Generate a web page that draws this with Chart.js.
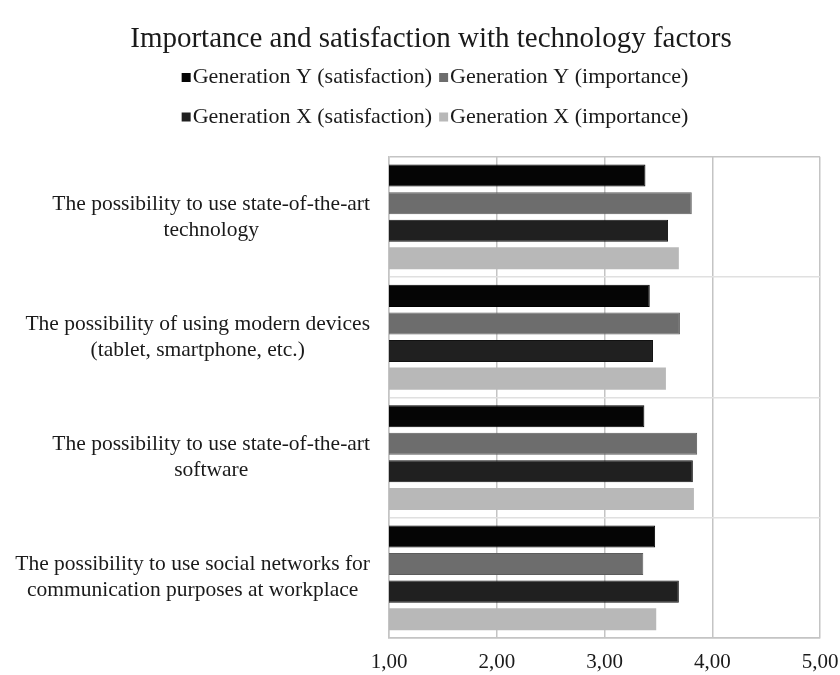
<!DOCTYPE html>
<html>
<head>
<meta charset="utf-8">
<script src="https://cdn.jsdelivr.net/npm/chart.js@4/dist/chart.umd.min.js"></script>
<style>
  html, body { margin: 0; padding: 0; background: #ffffff; }
  #wrap { width: 840px; height: 675px; position: relative; }
</style>
</head>
<body>
<div id="wrap"><canvas id="chart" width="840" height="675"></canvas></div>
<script>
// Factor names, one array of lines per category
const categories = [
  ['The possibility to use state-of-the-art', 'technology'],
  ['The possibility of using modern devices', '(tablet, smartphone, etc.)'],
  ['The possibility to use state-of-the-art', 'software'],
  ['The possibility to use social networks for', 'communication purposes at workplace']
];

// Mean scores per factor
const genYSatisfaction = [3.38, 3.42, 3.37, 3.47];
const genYImportance   = [3.81, 3.70, 3.86, 3.36];
const genXSatisfaction = [3.59, 3.45, 3.82, 3.69];
const genXImportance   = [3.69, 3.57, 3.83, 3.48];

const seriesNames = [
  'Generation Y (satisfaction)',
  'Generation Y (importance)',
  'Generation X (satisfaction)',
  'Generation X (importance)'
];

const tickLabels = ['1,00', '2,00', '3,00', '4,00', '5,00'];

const FONT = '"Liberation Serif", "Times New Roman", serif';
const TEXT = '#1a1a1a';
const GRID = '#c4c4c4';
const GRID_LIGHT = '#e0e0e0';

// Legend drawn as two rows of two entries under the title
const twoRowLegend = {
  id: 'twoRowLegend',
  afterDraw(chart) {
    const ctx = chart.ctx;
    const tb = chart.titleBlock;
    const cx = (tb ? tb.left + tb.width / 2 : chart.width / 2) + 4;
    const rows = [[0, 1], [2, 3]];
    const rowY = [77.5, 117];
    const box = 9, gapBox = 2, gapItem = 7;
    ctx.save();
    ctx.font = '22px ' + FONT;
    ctx.textBaseline = 'middle';
    ctx.textAlign = 'left';
    rows.forEach((row, r) => {
      const widths = row.map(i => ctx.measureText(chart.data.datasets[i].label).width);
      let total = 0;
      widths.forEach((w, k) => { total += box + gapBox + w + (k > 0 ? gapItem : 0); });
      let x = cx - total / 2;
      row.forEach((i, k) => {
        const ds = chart.data.datasets[i];
        if (k > 0) x += gapItem;
        ctx.fillStyle = ds.backgroundColor;
        ctx.fillRect(x, rowY[r] - box / 2, box, box);
        x += box + gapBox;
        ctx.fillStyle = TEXT;
        ctx.fillText(ds.label, x, rowY[r]);
        x += widths[k];
      });
    });
    ctx.restore();
  }
};

// Category labels: each label's lines centred on its widest line, block right-aligned to the axis
const categoryLabels = {
  id: 'categoryLabels',
  afterDraw(chart) {
    const ctx = chart.ctx;
    const yScale = chart.scales.y;
    const rightX = chart.chartArea.left - 19;
    const lineH = 26;
    ctx.save();
    ctx.font = '21.5px ' + FONT;
    ctx.fillStyle = TEXT;
    ctx.textBaseline = 'middle';
    ctx.textAlign = 'center';
    chart.data.labels.forEach((lines, i) => {
      const y = yScale.getPixelForTick(i);
      const w = Math.max(...lines.map(l => ctx.measureText(l).width));
      const cx = rightX - w / 2;
      const top = y - (lines.length - 1) * lineH / 2;
      lines.forEach((l, k) => ctx.fillText(l, cx, top + k * lineH));
    });
    ctx.restore();
  }
};

const colors = ['#050505', '#6d6d6d', '#202020', '#b8b8b8'];
const borders = ['#000000', '#5c5c5c', '#111111', '#b8b8b8'];
const values = [genYSatisfaction, genYImportance, genXSatisfaction, genXImportance];

new Chart(document.getElementById('chart'), {
  type: 'bar',
  data: {
    labels: categories,
    datasets: values.map((v, i) => ({
      label: seriesNames[i],
      data: v,
      backgroundColor: colors[i],
      borderColor: borders[i],
      borderWidth: i === 3 ? 0 : 1,
      categoryPercentage: 0.917,
      barPercentage: 0.8
    }))
  },
  options: {
    indexAxis: 'y',
    responsive: false,
    animation: false,
    layout: { padding: { left: 42, right: 20, top: 0, bottom: 0 } },
    plugins: {
      legend: { display: false },
      tooltip: { enabled: false },
      title: {
        display: true,
        text: 'Importance and satisfaction with technology factors',
        color: TEXT,
        font: { family: FONT, size: 29, weight: 'normal' },
        padding: { top: 22, bottom: 100 }
      }
    },
    scales: {
      x: {
        min: 1,
        max: 5,
        afterFit(scale) {
          scale.height = 37;
          scale.paddingLeft = 0;
          scale.paddingRight = 0;
        },
        ticks: {
          stepSize: 1,
          color: TEXT,
          padding: 12,
          font: { family: FONT, size: 21 },
          callback: (value) => tickLabels[Math.round(value) - 1]
        },
        grid: { color: GRID, lineWidth: 1.5, drawTicks: false },
        border: { color: GRID, width: 1.5 }
      },
      y: {
        ticks: { display: false },
        afterFit(scale) { scale.width = 347; },
        grid: {
          drawTicks: false,
          lineWidth: 1.5,
          color: (c) => (c.index === 0 || c.index === undefined) ? GRID : GRID_LIGHT
        },
        border: { color: GRID, width: 1.5 }
      }
    }
  },
  plugins: [twoRowLegend, categoryLabels]
});
</script>
</body>
</html>
